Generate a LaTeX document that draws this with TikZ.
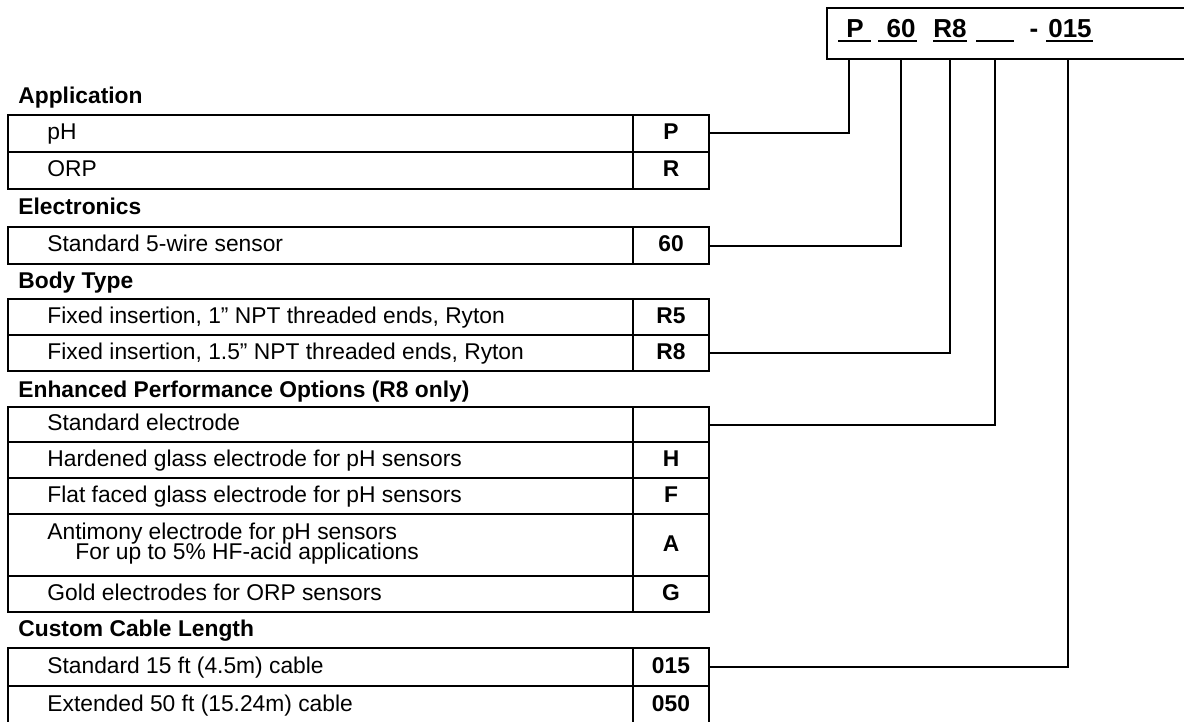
\documentclass[tikz,border=0pt]{standalone}
\usepackage{fontspec}
\setmainfont{Liberation Sans}
\newcommand{\fs}{\fontsize{11.4}{13.6}\selectfont}
\newcommand{\fh}{\fontsize{13}{15}\selectfont}
\tikzset{
  tbl/.style={line width=.65pt},
  desc/.style={anchor=west,inner sep=0pt,text height=1.5ex,text depth=.3ex,font=\fs},
  grouphead/.style={anchor=west,inner sep=0pt,text height=1.5ex,text depth=.3ex,font=\fs\bfseries},
  code/.style={draw,line width=.65pt,minimum width=38pt,minimum height=18.5pt,inner sep=0pt,text height=1.5ex,text depth=.3ex,font=\fs\bfseries},
  hdr/.style={anchor=base,inner sep=0pt,font=\fh\bfseries},
  link/.style={line width=1pt},
}
\begin{document}
\begin{tikzpicture}[x=.5pt,y=-.5pt]
\useasboundingbox (0,0) rectangle (1184,722);
\clip (0,0) rectangle (1184,722);
% order code box
\draw[link] (1190,8) -- (827,8) -- (827,59) -- (1190,59);
\node[hdr] (hP) at (855,38) {P};
\node[hdr] (h60) at (901,38) {60};
\node[hdr] (hR8) at (950,38) {R8};
\node[hdr] (hdash) at (1034,38) {-};
\node[hdr] (h015) at (1070,38) {015};
\draw[link] (838,41.5)--(871,41.5);
\draw[link] (878,41.5)--(917,41.5);
\draw[link] (933,41.5)--(967,41.5);
\draw[link] (976,41.5)--(1014,41.5);
\draw[link] (1046,41.5)--(1093,41.5);
\coordinate (tP) at (849,59);
\coordinate (t60) at (901,59);
\coordinate (tR8) at (950,59);
\coordinate (tEP) at (995,59);
\coordinate (t015) at (1068,59);
% Application
\node[grouphead] at (18,97) {Application};
\draw[tbl] (8,115) rectangle (633,152);
\node[desc] at (47,133.5) {pH};
\node[code] (cP) at (671,133.5) {P};
\draw[tbl] (8,152) rectangle (633,189);
\node[desc] at (47,170.5) {ORP};
\node[code] (cR) at (671,170.5) {R};
% Electronics
\node[grouphead] at (18,208) {Electronics};
\draw[tbl] (8,227) rectangle (633,264);
\node[desc] at (47,245.5) {Standard 5-wire sensor};
\node[code] (c60) at (671,245.5) {60};
% Body Type
\node[grouphead] at (18,282) {Body Type};
\draw[tbl] (8,299) rectangle (633,335);
\node[desc] at (47,317) {Fixed insertion, 1” NPT threaded ends, Ryton};
\node[code,minimum height=18pt] (cR5) at (671,317) {R5};
\draw[tbl] (8,335) rectangle (633,371);
\node[desc] at (47,353) {Fixed insertion, 1.5” NPT threaded ends, Ryton};
\node[code,minimum height=18pt] (cR8) at (671,353) {R8};
% Enhanced Performance Options
\node[grouphead] at (18,391) {Enhanced Performance Options (R8 only)};
\draw[tbl] (8,407) rectangle (633,442);
\node[desc] at (47,424.5) {Standard electrode};
\node[code,minimum height=17.5pt] (cEP) at (671,424.5) {};
\draw[tbl] (8,442) rectangle (633,478);
\node[desc] at (47,460) {Hardened glass electrode for pH sensors};
\node[code,minimum height=18pt] (cH) at (671,460) {H};
\draw[tbl] (8,478) rectangle (633,514);
\node[desc] at (47,496) {Flat faced glass electrode for pH sensors};
\node[code,minimum height=18pt] (cF) at (671,496) {F};
\draw[tbl] (8,514) rectangle (633,576);
\node[desc] at (47,533) {Antimony electrode for pH sensors};
\node[desc] at (75,553) {For up to 5\% HF-acid applications};
\node[code,minimum height=31pt] (cA) at (671,545) {A};
\draw[tbl] (8,576) rectangle (633,612);
\node[desc] at (47,594) {Gold electrodes for ORP sensors};
\node[code,minimum height=18pt] (cG) at (671,594) {G};
% Custom Cable Length
\node[grouphead] at (18,630) {Custom Cable Length};
\draw[tbl] (8,648) rectangle (633,686);
\node[desc] at (47,667) {Standard 15 ft (4.5m) cable};
\node[code,minimum height=19pt] (c015) at (671,667) {015};
\draw[tbl] (8,686) rectangle (633,724);
\node[desc] at (47,705) {Extended 50 ft (15.24m) cable};
\node[code,minimum height=19pt] (c050) at (671,705) {050};
% links to order code
\draw[link] (cP.east) -| (tP);
\draw[link] (c60.east) -| (t60);
\draw[link] (cR8.east) -| (tR8);
\draw[link] (cEP.east) -| (tEP);
\draw[link] (c015.east) -| (t015);
\end{tikzpicture}
\end{document}
